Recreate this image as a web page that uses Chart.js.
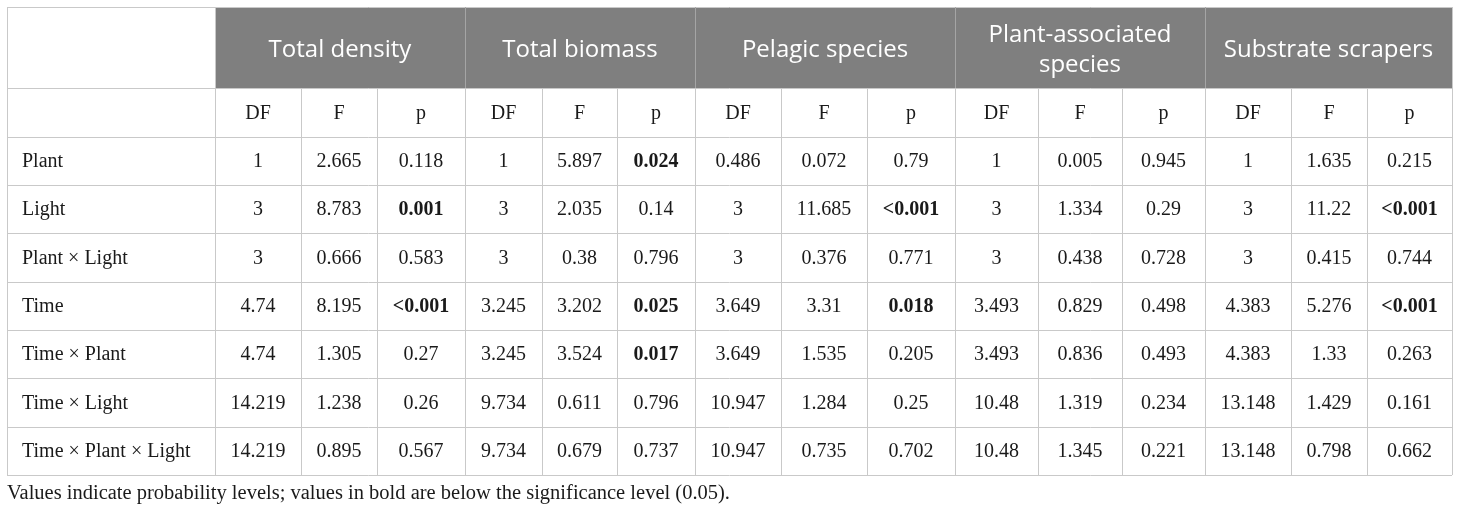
<!DOCTYPE html>
<html>
<head>
<meta charset="utf-8">
<script src="https://cdn.jsdelivr.net/npm/chart.js@4"></script>
<style>
  html, body { margin: 0; padding: 0; background: #fff; }
  canvas { display: block; }
</style>
</head>
<body>
<canvas id="tabel" width="1460" height="512" style="width:1460px;height:512px"></canvas>
<script>
// Kelompok kolom dan sub-kolom
const groups = ["Total density", "Total biomass", "Pelagic species", "Plant-associated\nspecies", "Substrate scrapers"];
const stats = ["DF", "F", "p"];
const terms = ["Plant", "Light", "Plant × Light", "Time", "Time × Plant", "Time × Light", "Time × Plant × Light"];

// Nilai per kelompok: [DF, F, p] untuk tiap baris
const totalDensity = [
    ["1", "2.665", "0.118"], ["3", "8.783", "0.001"], ["3", "0.666", "0.583"], ["4.74", "8.195", "<0.001"],
    ["4.74", "1.305", "0.27"], ["14.219", "1.238", "0.26"], ["14.219", "0.895", "0.567"]
];
const totalBiomass = [
    ["1", "5.897", "0.024"], ["3", "2.035", "0.14"], ["3", "0.38", "0.796"], ["3.245", "3.202", "0.025"],
    ["3.245", "3.524", "0.017"], ["9.734", "0.611", "0.796"], ["9.734", "0.679", "0.737"]
];
const pelagicSpecies = [
    ["0.486", "0.072", "0.79"], ["3", "11.685", "<0.001"], ["3", "0.376", "0.771"], ["3.649", "3.31", "0.018"],
    ["3.649", "1.535", "0.205"], ["10.947", "1.284", "0.25"], ["10.947", "0.735", "0.702"]
];
const plantAssociated = [
    ["1", "0.005", "0.945"], ["3", "1.334", "0.29"], ["3", "0.438", "0.728"], ["3.493", "0.829", "0.498"],
    ["3.493", "0.836", "0.493"], ["10.48", "1.319", "0.234"], ["10.48", "1.345", "0.221"]
];
const substrateScrapers = [
    ["1", "1.635", "0.215"], ["3", "11.22", "<0.001"], ["3", "0.415", "0.744"], ["4.383", "5.276", "<0.001"],
    ["4.383", "1.33", "0.263"], ["13.148", "1.429", "0.161"], ["13.148", "0.798", "0.662"]
];
const groupValues = [totalDensity, totalBiomass, pelagicSpecies, plantAssociated, substrateScrapers];
const footnote = "Values indicate probability levels; values in bold are below the significance level (0.05).";
const alpha = 0.05;

// Tata letak (satuan skala = piksel)
const colEdges = [7, 215, 301, 377, 465, 542, 617, 695, 781, 867, 955, 1038, 1122, 1205, 1291, 1367, 1452];
const rowEdges = [7, 88, 137, 185, 233, 282, 330, 378, 427, 475];
const footY = 494;

const garis = "#c9c9c9";
const abuHeader = "#7f7f7f";
const teks = "#1a1a1a";
const serif = "'Liberation Serif', 'DejaVu Serif', serif";
const sans = "'Open Sans', 'Noto Sans', sans-serif";

function isBold(p) {
    if (p.startsWith("<")) return true;
    return parseFloat(p) < alpha;
}

const tabelPlugin = {
    id: "tabel",
    afterDraw(chart) {
        const ctx = chart.ctx;
        const sx = chart.scales.x, sy = chart.scales.y;
        const X = (v) => sx.getPixelForValue(v);
        const Y = (v) => sy.getPixelForValue(v);
        const left = X(colEdges[0]), right = X(colEdges[colEdges.length - 1]);
        const top = Y(rowEdges[0]), bottom = Y(rowEdges[rowEdges.length - 1]);

        ctx.save();
        // Latar header abu-abu
        ctx.fillStyle = abuHeader;
        ctx.fillRect(X(colEdges[1]), top, right - X(colEdges[1]), Y(rowEdges[1]) - top);

        // Garis horizontal
        ctx.lineWidth = 1;
        ctx.strokeStyle = garis;
        rowEdges.forEach((r) => {
            const y = Math.round(Y(r)) + 0.5;
            ctx.beginPath();
            ctx.moveTo(left, y);
            ctx.lineTo(right, y);
            ctx.stroke();
        });

        // Garis vertikal
        colEdges.forEach((c, i) => {
            const x = Math.round(X(c)) + 0.5;
            const isGroupEdge = i === 0 || i === 1 || (i - 1) % 3 === 0;
            const y0 = isGroupEdge ? top : Y(rowEdges[1]);
            ctx.beginPath();
            if (isGroupEdge && i > 1 && i < colEdges.length - 1) {
                // di dalam header abu-abu garisnya lebih terang
                ctx.strokeStyle = "#a5a5a5";
                ctx.moveTo(x, top);
                ctx.lineTo(x, Y(rowEdges[1]));
                ctx.stroke();
                ctx.beginPath();
                ctx.strokeStyle = garis;
                ctx.moveTo(x, Y(rowEdges[1]));
            } else {
                ctx.strokeStyle = garis;
                ctx.moveTo(x, y0);
            }
            ctx.lineTo(x, bottom);
            ctx.stroke();
        });

        // Judul kelompok
        ctx.fillStyle = "#ffffff";
        ctx.font = "24px " + sans;
        ctx.textAlign = "center";
        ctx.textBaseline = "middle";
        groups.forEach((g, gi) => {
            const cx = (X(colEdges[1 + gi * 3]) + X(colEdges[4 + gi * 3])) / 2;
            const cy = (Y(rowEdges[0]) + Y(rowEdges[1])) / 2 + 2.5;
            const lines = g.split("\n");
            lines.forEach((ln, li) => {
                ctx.fillText(ln, cx, cy + (li - (lines.length - 1) / 2) * 30);
            });
        });

        // Sub-header DF F p
        ctx.fillStyle = teks;
        ctx.font = "20px " + serif;
        const subY = (Y(rowEdges[1]) + Y(rowEdges[2])) / 2 + 1;
        groups.forEach((g, gi) => {
            stats.forEach((s, si) => {
                const k = 1 + gi * 3 + si;
                ctx.fillText(s, (X(colEdges[k]) + X(colEdges[k + 1])) / 2, subY);
            });
        });

        // Baris data
        terms.forEach((t, ri) => {
            const cy = (Y(rowEdges[ri + 2]) + Y(rowEdges[ri + 3])) / 2 + 1;
            ctx.textAlign = "left";
            ctx.font = "20px " + serif;
            ctx.fillText(t, X(colEdges[0]) + 15, cy);
            ctx.textAlign = "center";
            groupValues.forEach((vals, gi) => {
                vals[ri].forEach((v, si) => {
                    const k = 1 + gi * 3 + si;
                    ctx.font = (si === 2 && isBold(v) ? "bold " : "") + "20px " + serif;
                    ctx.fillText(v, (X(colEdges[k]) + X(colEdges[k + 1])) / 2, cy);
                });
            });
        });

        // Catatan kaki
        ctx.textAlign = "left";
        ctx.font = "20.5px " + serif;
        ctx.fillText(footnote, X(colEdges[0]), Y(footY));
        ctx.restore();
    }
};

new Chart(document.getElementById("tabel").getContext("2d"), {
    type: "scatter",
    data: { datasets: [] },
    options: {
        responsive: false,
        animation: false,
        layout: { padding: 0 },
        plugins: { legend: { display: false }, tooltip: { enabled: false } },
        scales: {
            x: { type: "linear", min: 0, max: 1460, display: false },
            y: { type: "linear", min: 0, max: 512, reverse: true, display: false }
        }
    },
    plugins: [tabelPlugin]
});
</script>
</body>
</html>
